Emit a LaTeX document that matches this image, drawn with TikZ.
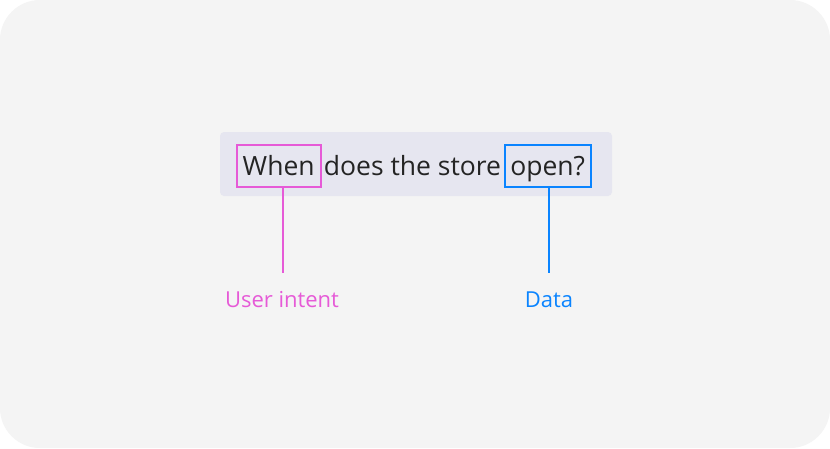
\documentclass[tikz,border=0pt]{standalone}
\usepackage{fontspec}
\setmainfont{Open Sans}
\usetikzlibrary{positioning}
\definecolor{panelgray}{HTML}{F4F4F4}
\definecolor{barlav}{HTML}{E6E6F0}
\definecolor{intentpink}{HTML}{E65AD7}
\definecolor{datablue}{HTML}{0A84FF}
\definecolor{inktext}{HTML}{242424}
\tikzset{
  word/.style={inner sep=0pt,text=inktext,text height=25pt,text depth=5pt,
    font=\fontsize{26.5}{31}\selectfont},
  wordbox/.style={word,draw=#1,line width=2pt,minimum height=42pt},
  tag/.style={inner sep=0pt,text=#1,font=\fontsize{22}{26}\selectfont},
}
\begin{document}
\begin{tikzpicture}[x=1pt,y=-1pt]
\useasboundingbox (0,0) rectangle (830,448);
\fill[white] (0,0) rectangle (830,448);
\fill[panelgray,rounded corners=40pt] (0,0) rectangle (830,448);
\node[fill=barlav,rounded corners=4pt,minimum width=392pt,minimum height=64pt,inner sep=0pt] (bar) at (416,164) {};
% the question, word by word
\node[wordbox=intentpink,minimum width=84pt] (when) at (278.7,165.7) {When};
\node[word] (middle) at (412.5,165.7) {does the store};
\node[wordbox=datablue,minimum width=86pt] (open) at (547.7,165.7) {open?};
% labels underneath
\node[tag=intentpink] (intent) at (282,300) {User intent};
\node[tag=datablue] (data) at (549,300) {Data};
\coordinate (intentend) at (283,273);
\coordinate (dataend) at (549,273);
\draw[intentpink,line width=2pt] (when.south -| intentend) -- (intentend);
\draw[datablue,line width=2pt] (open.south -| dataend) -- (dataend);
\end{tikzpicture}
\end{document}
